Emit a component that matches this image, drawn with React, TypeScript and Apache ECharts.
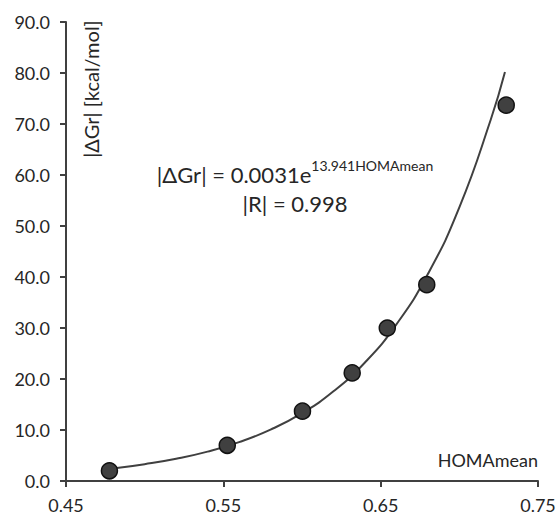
import React, { useEffect, useRef } from "react";
import * as echarts from "echarts";

const homaMean = [0.4776, 0.5525, 0.6003, 0.6319, 0.6542, 0.6793, 0.7298];
const deltaGr = [2.0, 7.0, 13.7, 21.2, 30.0, 38.5, 73.7];
// trend line
const curveX = [0.481, 0.5, 0.52, 0.54, 0.56, 0.58, 0.6, 0.62, 0.64, 0.66, 0.68, 0.7, 0.72, 0.729];
const curveY = [2.5, 3.3, 4.36, 5.76, 7.62, 10.07, 13.31, 17.59, 23.24, 30.72, 40.59, 53.64, 70.89, 80.2];

const FONT = "Lato, 'Open Sans', sans-serif";
const TXT = "#262626";
const AX = "#404040";

export default function App() {
  const ref = useRef<HTMLDivElement>(null);
  useEffect(() => {
    const chart = echarts.init(ref.current!, undefined, { renderer: "svg" });
    chart.setOption({
      animation: false,
      backgroundColor: "#fff",
      grid: { left: 66, right: 21, top: 22, bottom: 34, containLabel: false },
      xAxis: {
        type: "value",
        min: 0.45,
        max: 0.75,
        interval: 0.1,
        axisLine: { lineStyle: { color: AX, width: 2 } },
        axisTick: { show: true, length: 6, lineStyle: { color: AX, width: 2 } },
        axisLabel: {
          color: TXT,
          fontFamily: FONT,
          fontSize: 18,
          margin: 15,
          formatter: (v: number) => v.toFixed(2),
        },
        splitLine: { show: false },
      },
      yAxis: {
        type: "value",
        min: 0,
        max: 90,
        interval: 10,
        axisLine: { show: true, lineStyle: { color: AX, width: 2 } },
        axisTick: { show: true, length: 6, lineStyle: { color: AX, width: 2 } },
        axisLabel: {
          color: TXT,
          fontFamily: FONT,
          fontSize: 18,
          margin: 16,
          formatter: (v: number) => v.toFixed(1),
        },
        splitLine: { show: false },
      },
      series: [
        {
          type: "line",
          data: curveX.map((x, i) => [x, curveY[i]]),
          smooth: true,
          showSymbol: false,
          lineStyle: { color: AX, width: 2 },
          z: 2,
        },
        {
          type: "scatter",
          data: homaMean.map((x, i) => [x, deltaGr[i]]),
          symbolSize: 16,
          itemStyle: { color: "#404040", borderColor: "#111", borderWidth: 1.5, opacity: 1 },
          z: 3,
        },
      ],
      graphic: [
        {
          type: "text",
          x: 91,
          y: 89,
          rotation: Math.PI / 2,
          style: {
            text: "|ΔGr| [kcal/mol]",
            fontFamily: FONT,
            fontSize: 20,
            fill: TXT,
            align: "center",
            verticalAlign: "middle",
          },
        },
        {
          type: "text",
          x: 538,
          y: 460,
          style: {
            text: "HOMAmean",
            fontFamily: FONT,
            fontSize: 18,
            fill: TXT,
            align: "right",
            verticalAlign: "middle",
          },
        },
        {
          type: "text",
          x: 295,
          y: 174,
          style: {
            text: "{m||ΔGr| = 0.0031e}{s|13.941HOMAmean}",
            fontFamily: FONT,
            fill: TXT,
            align: "center",
            verticalAlign: "middle",
            rich: {
              m: { fontFamily: FONT, fontSize: 22, fill: TXT, lineHeight: 32 },
              s: { fontFamily: FONT, fontSize: 14, fill: TXT, verticalAlign: "top", lineHeight: 17 },
            },
          },
        },
        {
          type: "text",
          x: 295,
          y: 203,
          style: {
            text: "|R| = 0.998",
            fontFamily: FONT,
            fontSize: 22,
            fill: TXT,
            align: "center",
            verticalAlign: "middle",
          },
        },
      ],
    });
    return () => chart.dispose();
  }, []);
  return <div ref={ref} style={{ width: 559, height: 515, position: "absolute", left: 0, top: 0 }} />;
}
